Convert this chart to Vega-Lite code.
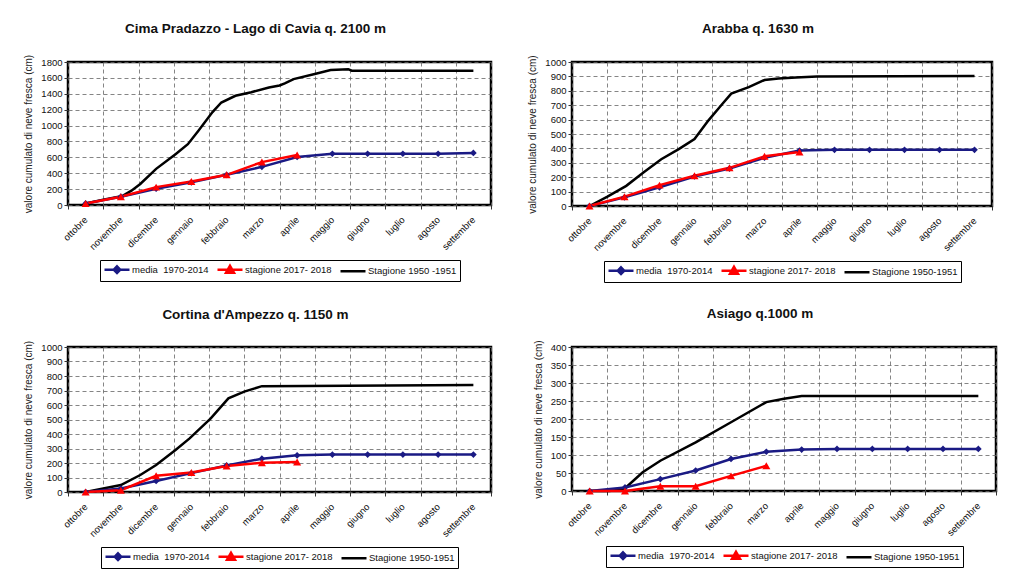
{
  "$schema": "https://vega.github.io/schema/vega-lite/v6.json",
  "background": "white",
  "padding": {"left": 22, "top": 20, "right": 5, "bottom": 2},
  "columns": 2,
  "spacing": {"row": 22, "column": 30},
  "resolve": {"scale": {"color": "independent", "shape": "independent", "size": "independent", "x": "independent", "y": "independent"}, "legend": {"color": "independent", "shape": "independent", "size": "independent"}},
  "datasets": {
    "cima": [
      {"serie": "Stagione 1950 -1951", "mese": 0.5, "cm": 20},
      {"serie": "Stagione 1950 -1951", "mese": 1.0, "cm": 67},
      {"serie": "Stagione 1950 -1951", "mese": 1.55, "cm": 115},
      {"serie": "Stagione 1950 -1951", "mese": 1.8, "cm": 180},
      {"serie": "Stagione 1950 -1951", "mese": 2.05, "cm": 265},
      {"serie": "Stagione 1950 -1951", "mese": 2.5, "cm": 455},
      {"serie": "Stagione 1950 -1951", "mese": 3.05, "cm": 640},
      {"serie": "Stagione 1950 -1951", "mese": 3.4, "cm": 765},
      {"serie": "Stagione 1950 -1951", "mese": 3.7, "cm": 935},
      {"serie": "Stagione 1950 -1951", "mese": 4.1, "cm": 1170},
      {"serie": "Stagione 1950 -1951", "mese": 4.35, "cm": 1290},
      {"serie": "Stagione 1950 -1951", "mese": 4.75, "cm": 1375},
      {"serie": "Stagione 1950 -1951", "mese": 5.2, "cm": 1420},
      {"serie": "Stagione 1950 -1951", "mese": 5.7, "cm": 1480},
      {"serie": "Stagione 1950 -1951", "mese": 6.0, "cm": 1505},
      {"serie": "Stagione 1950 -1951", "mese": 6.15, "cm": 1530},
      {"serie": "Stagione 1950 -1951", "mese": 6.4, "cm": 1585},
      {"serie": "Stagione 1950 -1951", "mese": 7.0, "cm": 1650},
      {"serie": "Stagione 1950 -1951", "mese": 7.45, "cm": 1700},
      {"serie": "Stagione 1950 -1951", "mese": 7.95, "cm": 1710},
      {"serie": "Stagione 1950 -1951", "mese": 8.05, "cm": 1690},
      {"serie": "Stagione 1950 -1951", "mese": 11.5, "cm": 1690},
      {"serie": "media\u00a0 1970-2014", "mese": 0.5, "cm": 20},
      {"serie": "media\u00a0 1970-2014", "mese": 1.5, "cm": 105},
      {"serie": "media\u00a0 1970-2014", "mese": 2.5, "cm": 205},
      {"serie": "media\u00a0 1970-2014", "mese": 3.5, "cm": 285},
      {"serie": "media\u00a0 1970-2014", "mese": 4.5, "cm": 380},
      {"serie": "media\u00a0 1970-2014", "mese": 5.5, "cm": 480},
      {"serie": "media\u00a0 1970-2014", "mese": 6.5, "cm": 605},
      {"serie": "media\u00a0 1970-2014", "mese": 7.5, "cm": 645},
      {"serie": "media\u00a0 1970-2014", "mese": 8.5, "cm": 645},
      {"serie": "media\u00a0 1970-2014", "mese": 9.5, "cm": 645},
      {"serie": "media\u00a0 1970-2014", "mese": 10.5, "cm": 645},
      {"serie": "media\u00a0 1970-2014", "mese": 11.5, "cm": 655},
      {"serie": "stagione 2017- 2018", "mese": 0.5, "cm": 20},
      {"serie": "stagione 2017- 2018", "mese": 1.5, "cm": 105},
      {"serie": "stagione 2017- 2018", "mese": 2.5, "cm": 225},
      {"serie": "stagione 2017- 2018", "mese": 3.5, "cm": 295},
      {"serie": "stagione 2017- 2018", "mese": 4.5, "cm": 380},
      {"serie": "stagione 2017- 2018", "mese": 5.5, "cm": 540},
      {"serie": "stagione 2017- 2018", "mese": 6.5, "cm": 630}
    ],
    "arabba": [
      {"serie": "Stagione 1950-1951", "mese": 0.5, "cm": 0},
      {"serie": "Stagione 1950-1951", "mese": 1.0, "cm": 63},
      {"serie": "Stagione 1950-1951", "mese": 1.55, "cm": 140},
      {"serie": "Stagione 1950-1951", "mese": 2.05, "cm": 235},
      {"serie": "Stagione 1950-1951", "mese": 2.55, "cm": 325},
      {"serie": "Stagione 1950-1951", "mese": 3.05, "cm": 395},
      {"serie": "Stagione 1950-1951", "mese": 3.5, "cm": 465},
      {"serie": "Stagione 1950-1951", "mese": 3.9, "cm": 595},
      {"serie": "Stagione 1950-1951", "mese": 4.3, "cm": 710},
      {"serie": "Stagione 1950-1951", "mese": 4.55, "cm": 780},
      {"serie": "Stagione 1950-1951", "mese": 5.05, "cm": 825},
      {"serie": "Stagione 1950-1951", "mese": 5.5, "cm": 875},
      {"serie": "Stagione 1950-1951", "mese": 5.9, "cm": 885},
      {"serie": "Stagione 1950-1951", "mese": 6.4, "cm": 892},
      {"serie": "Stagione 1950-1951", "mese": 7.0, "cm": 900},
      {"serie": "Stagione 1950-1951", "mese": 11.5, "cm": 903},
      {"serie": "media\u00a0 1970-2014", "mese": 0.5, "cm": 0},
      {"serie": "media\u00a0 1970-2014", "mese": 1.5, "cm": 60},
      {"serie": "media\u00a0 1970-2014", "mese": 2.5, "cm": 130},
      {"serie": "media\u00a0 1970-2014", "mese": 3.5, "cm": 205},
      {"serie": "media\u00a0 1970-2014", "mese": 4.5, "cm": 260},
      {"serie": "media\u00a0 1970-2014", "mese": 5.5, "cm": 335},
      {"serie": "media\u00a0 1970-2014", "mese": 6.5, "cm": 385},
      {"serie": "media\u00a0 1970-2014", "mese": 7.5, "cm": 390},
      {"serie": "media\u00a0 1970-2014", "mese": 8.5, "cm": 390},
      {"serie": "media\u00a0 1970-2014", "mese": 9.5, "cm": 390},
      {"serie": "media\u00a0 1970-2014", "mese": 10.5, "cm": 390},
      {"serie": "media\u00a0 1970-2014", "mese": 11.5, "cm": 390},
      {"serie": "stagione 2017- 2018", "mese": 0.5, "cm": 0},
      {"serie": "stagione 2017- 2018", "mese": 1.5, "cm": 65},
      {"serie": "stagione 2017- 2018", "mese": 2.5, "cm": 145},
      {"serie": "stagione 2017- 2018", "mese": 3.5, "cm": 210},
      {"serie": "stagione 2017- 2018", "mese": 4.5, "cm": 265},
      {"serie": "stagione 2017- 2018", "mese": 5.5, "cm": 345},
      {"serie": "stagione 2017- 2018", "mese": 6.5, "cm": 375}
    ],
    "cortina": [
      {"serie": "Stagione 1950-1951", "mese": 0.5, "cm": 0},
      {"serie": "Stagione 1950-1951", "mese": 1.0, "cm": 24},
      {"serie": "Stagione 1950-1951", "mese": 1.5, "cm": 48},
      {"serie": "Stagione 1950-1951", "mese": 2.05, "cm": 117},
      {"serie": "Stagione 1950-1951", "mese": 2.5, "cm": 186},
      {"serie": "Stagione 1950-1951", "mese": 3.05, "cm": 290},
      {"serie": "Stagione 1950-1951", "mese": 3.45, "cm": 370},
      {"serie": "Stagione 1950-1951", "mese": 4.05, "cm": 508},
      {"serie": "Stagione 1950-1951", "mese": 4.55, "cm": 646},
      {"serie": "Stagione 1950-1951", "mese": 5.0, "cm": 692},
      {"serie": "Stagione 1950-1951", "mese": 5.5, "cm": 730},
      {"serie": "Stagione 1950-1951", "mese": 11.5, "cm": 738},
      {"serie": "media\u00a0 1970-2014", "mese": 0.5, "cm": 0},
      {"serie": "media\u00a0 1970-2014", "mese": 1.5, "cm": 24},
      {"serie": "media\u00a0 1970-2014", "mese": 2.5, "cm": 76},
      {"serie": "media\u00a0 1970-2014", "mese": 3.5, "cm": 130},
      {"serie": "media\u00a0 1970-2014", "mese": 4.5, "cm": 183},
      {"serie": "media\u00a0 1970-2014", "mese": 5.5, "cm": 230},
      {"serie": "media\u00a0 1970-2014", "mese": 6.5, "cm": 253},
      {"serie": "media\u00a0 1970-2014", "mese": 7.5, "cm": 258},
      {"serie": "media\u00a0 1970-2014", "mese": 8.5, "cm": 258},
      {"serie": "media\u00a0 1970-2014", "mese": 9.5, "cm": 258},
      {"serie": "media\u00a0 1970-2014", "mese": 10.5, "cm": 258},
      {"serie": "media\u00a0 1970-2014", "mese": 11.5, "cm": 258},
      {"serie": "stagione 2017- 2018", "mese": 0.5, "cm": 0},
      {"serie": "stagione 2017- 2018", "mese": 1.5, "cm": 12},
      {"serie": "stagione 2017- 2018", "mese": 2.5, "cm": 112},
      {"serie": "stagione 2017- 2018", "mese": 3.5, "cm": 135},
      {"serie": "stagione 2017- 2018", "mese": 4.5, "cm": 180},
      {"serie": "stagione 2017- 2018", "mese": 5.5, "cm": 202},
      {"serie": "stagione 2017- 2018", "mese": 6.5, "cm": 207}
    ],
    "asiago": [
      {"serie": "Stagione 1950-1951", "mese": 0.5, "cm": 0},
      {"serie": "Stagione 1950-1951", "mese": 1.05, "cm": 0},
      {"serie": "Stagione 1950-1951", "mese": 1.47, "cm": 5},
      {"serie": "Stagione 1950-1951", "mese": 2.0, "cm": 52},
      {"serie": "Stagione 1950-1951", "mese": 2.5, "cm": 84},
      {"serie": "Stagione 1950-1951", "mese": 3.5, "cm": 135},
      {"serie": "Stagione 1950-1951", "mese": 4.5, "cm": 191},
      {"serie": "Stagione 1950-1951", "mese": 5.5, "cm": 247},
      {"serie": "Stagione 1950-1951", "mese": 6.0, "cm": 256},
      {"serie": "Stagione 1950-1951", "mese": 6.5, "cm": 264},
      {"serie": "Stagione 1950-1951", "mese": 11.5, "cm": 264},
      {"serie": "media\u00a0 1970-2014", "mese": 0.5, "cm": 0},
      {"serie": "media\u00a0 1970-2014", "mese": 1.5, "cm": 10},
      {"serie": "media\u00a0 1970-2014", "mese": 2.5, "cm": 33},
      {"serie": "media\u00a0 1970-2014", "mese": 3.5, "cm": 57},
      {"serie": "media\u00a0 1970-2014", "mese": 4.5, "cm": 89},
      {"serie": "media\u00a0 1970-2014", "mese": 5.5, "cm": 109},
      {"serie": "media\u00a0 1970-2014", "mese": 6.5, "cm": 115},
      {"serie": "media\u00a0 1970-2014", "mese": 7.5, "cm": 117},
      {"serie": "media\u00a0 1970-2014", "mese": 8.5, "cm": 117},
      {"serie": "media\u00a0 1970-2014", "mese": 9.5, "cm": 117},
      {"serie": "media\u00a0 1970-2014", "mese": 10.5, "cm": 117},
      {"serie": "media\u00a0 1970-2014", "mese": 11.5, "cm": 117},
      {"serie": "stagione 2017- 2018", "mese": 0.5, "cm": 0},
      {"serie": "stagione 2017- 2018", "mese": 1.5, "cm": 0},
      {"serie": "stagione 2017- 2018", "mese": 2.5, "cm": 13},
      {"serie": "stagione 2017- 2018", "mese": 3.5, "cm": 13},
      {"serie": "stagione 2017- 2018", "mese": 4.5, "cm": 42},
      {"serie": "stagione 2017- 2018", "mese": 5.5, "cm": 70}
    ]
  },
  "concat": [
    {
      "title": "Cima Pradazzo - Lago di Cavia q. 2100 m",
      "width": 423, "height": 143,
      "data": {"name": "cima"},
      "encoding": {
        "x": {"field": "mese", "type": "quantitative", "scale": {"domain": [0, 12], "nice": false, "zero": false},
          "axis": {"title": null, "values": [0,0.5,1,1.5,2,2.5,3,3.5,4,4.5,5,5.5,6,6.5,7,7.5,8,8.5,9,9.5,10,10.5,11,11.5,12],
            "labelExpr": "datum.value % 1 === 0 ? '' : ['ottobre','novembre','dicembre','gennaio','febbraio','marzo','aprile','maggio','giugno','luglio','agosto','settembre'][floor(datum.value)]",
            "gridOpacity": {"condition": {"test": "datum.value % 1 === 0", "value": 1}, "value": 0},
            "tickOpacity": {"condition": {"test": "datum.value % 1 === 0", "value": 1}, "value": 0}}},
        "y": {"field": "cm", "type": "quantitative", "scale": {"domain": [0, 1800], "nice": false},
          "axis": {"title": "valore cumulato di neve fresca (cm)", "format": "d", "values": [0,200,400,600,800,1000,1200,1400,1600,1800]}}
      },
      "layer": [
        {"mark": {"type": "line", "strokeWidth": 2.5},
         "encoding": {"color": {"field": "serie", "type": "nominal", "sort": null,
           "scale": {"domain": ["media\u00a0 1970-2014", "stagione 2017- 2018", "Stagione 1950 -1951"], "range": ["#1a1a84", "#ff0000", "#000000"]},
           "legend": {"encode": {"symbols": {"update": {
             "shape": {"signal": "datum.value === 'stagione 2017- 2018' ? 'M-1,0H4M1.5,-0.8L2.3,0.6L0.7,0.6Z' : (datum.value === 'Stagione 1950-1951' || datum.value === 'Stagione 1950 -1951') ? 'M-1,0H4' : 'M-1,0H4M1.5,-0.65L2.15,0L1.5,0.65L0.85,0Z'"},
             "fill": {"signal": "datum.value === 'stagione 2017- 2018' ? '#ff0000' : (datum.value === 'Stagione 1950-1951' || datum.value === 'Stagione 1950 -1951') ? 'transparent' : '#1a1a84'"},
             "stroke": {"signal": "datum.value === 'stagione 2017- 2018' ? '#ff0000' : (datum.value === 'Stagione 1950-1951' || datum.value === 'Stagione 1950 -1951') ? '#000000' : '#1a1a84'"},
             "strokeWidth": {"value": 2.5}, "opacity": {"value": 1}}}}}}}},
        {"transform": [{"filter": {"field": "serie", "oneOf": ["media\u00a0 1970-2014", "stagione 2017- 2018"]}}],
         "mark": {"type": "point", "filled": true, "opacity": 1},
         "encoding": {
           "color": {"field": "serie", "type": "nominal", "legend": null},
           "shape": {"field": "serie", "type": "nominal", "scale": {"domain": ["media\u00a0 1970-2014", "stagione 2017- 2018"], "range": ["diamond", "triangle-up"]}, "legend": null},
           "size": {"field": "serie", "type": "nominal", "scale": {"domain": ["media\u00a0 1970-2014", "stagione 2017- 2018"], "range": [45, 65]}, "legend": null}}}
      ]
    },
    {
      "title": "Arabba q. 1630 m",
      "width": 420, "height": 144,
      "data": {"name": "arabba"},
      "encoding": {
        "x": {"field": "mese", "type": "quantitative", "scale": {"domain": [0, 12], "nice": false, "zero": false},
          "axis": {"title": null, "values": [0,0.5,1,1.5,2,2.5,3,3.5,4,4.5,5,5.5,6,6.5,7,7.5,8,8.5,9,9.5,10,10.5,11,11.5,12],
            "labelExpr": "datum.value % 1 === 0 ? '' : ['ottobre','novembre','dicembre','gennaio','febbraio','marzo','aprile','maggio','giugno','luglio','agosto','settembre'][floor(datum.value)]",
            "gridOpacity": {"condition": {"test": "datum.value % 1 === 0", "value": 1}, "value": 0},
            "tickOpacity": {"condition": {"test": "datum.value % 1 === 0", "value": 1}, "value": 0}}},
        "y": {"field": "cm", "type": "quantitative", "scale": {"domain": [0, 1000], "nice": false},
          "axis": {"title": "valore cumulato di neve fresca (cm)", "format": "d", "values": [0,100,200,300,400,500,600,700,800,900,1000]}}
      },
      "layer": [
        {"mark": {"type": "line", "strokeWidth": 2.5},
         "encoding": {"color": {"field": "serie", "type": "nominal", "sort": null,
           "scale": {"domain": ["media\u00a0 1970-2014", "stagione 2017- 2018", "Stagione 1950-1951"], "range": ["#1a1a84", "#ff0000", "#000000"]},
           "legend": {"encode": {"symbols": {"update": {
             "shape": {"signal": "datum.value === 'stagione 2017- 2018' ? 'M-1,0H4M1.5,-0.8L2.3,0.6L0.7,0.6Z' : (datum.value === 'Stagione 1950-1951' || datum.value === 'Stagione 1950 -1951') ? 'M-1,0H4' : 'M-1,0H4M1.5,-0.65L2.15,0L1.5,0.65L0.85,0Z'"},
             "fill": {"signal": "datum.value === 'stagione 2017- 2018' ? '#ff0000' : (datum.value === 'Stagione 1950-1951' || datum.value === 'Stagione 1950 -1951') ? 'transparent' : '#1a1a84'"},
             "stroke": {"signal": "datum.value === 'stagione 2017- 2018' ? '#ff0000' : (datum.value === 'Stagione 1950-1951' || datum.value === 'Stagione 1950 -1951') ? '#000000' : '#1a1a84'"},
             "strokeWidth": {"value": 2.5}, "opacity": {"value": 1}}}}}}}},
        {"transform": [{"filter": {"field": "serie", "oneOf": ["media\u00a0 1970-2014", "stagione 2017- 2018"]}}],
         "mark": {"type": "point", "filled": true, "opacity": 1},
         "encoding": {
           "color": {"field": "serie", "type": "nominal", "legend": null},
           "shape": {"field": "serie", "type": "nominal", "scale": {"domain": ["media\u00a0 1970-2014", "stagione 2017- 2018"], "range": ["diamond", "triangle-up"]}, "legend": null},
           "size": {"field": "serie", "type": "nominal", "scale": {"domain": ["media\u00a0 1970-2014", "stagione 2017- 2018"], "range": [45, 65]}, "legend": null}}}
      ]
    },
    {
      "title": "Cortina d'Ampezzo q. 1150 m",
      "width": 423, "height": 145,
      "data": {"name": "cortina"},
      "encoding": {
        "x": {"field": "mese", "type": "quantitative", "scale": {"domain": [0, 12], "nice": false, "zero": false},
          "axis": {"title": null, "values": [0,0.5,1,1.5,2,2.5,3,3.5,4,4.5,5,5.5,6,6.5,7,7.5,8,8.5,9,9.5,10,10.5,11,11.5,12],
            "labelExpr": "datum.value % 1 === 0 ? '' : ['ottobre','novembre','dicembre','gennaio','febbraio','marzo','aprile','maggio','giugno','luglio','agosto','settembre'][floor(datum.value)]",
            "gridOpacity": {"condition": {"test": "datum.value % 1 === 0", "value": 1}, "value": 0},
            "tickOpacity": {"condition": {"test": "datum.value % 1 === 0", "value": 1}, "value": 0}}},
        "y": {"field": "cm", "type": "quantitative", "scale": {"domain": [0, 1000], "nice": false},
          "axis": {"title": "valore cumulato di neve fresca (cm)", "format": "d", "values": [0,100,200,300,400,500,600,700,800,900,1000]}}
      },
      "layer": [
        {"mark": {"type": "line", "strokeWidth": 2.5},
         "encoding": {"color": {"field": "serie", "type": "nominal", "sort": null,
           "scale": {"domain": ["media\u00a0 1970-2014", "stagione 2017- 2018", "Stagione 1950-1951"], "range": ["#1a1a84", "#ff0000", "#000000"]},
           "legend": {"encode": {"symbols": {"update": {
             "shape": {"signal": "datum.value === 'stagione 2017- 2018' ? 'M-1,0H4M1.5,-0.8L2.3,0.6L0.7,0.6Z' : (datum.value === 'Stagione 1950-1951' || datum.value === 'Stagione 1950 -1951') ? 'M-1,0H4' : 'M-1,0H4M1.5,-0.65L2.15,0L1.5,0.65L0.85,0Z'"},
             "fill": {"signal": "datum.value === 'stagione 2017- 2018' ? '#ff0000' : (datum.value === 'Stagione 1950-1951' || datum.value === 'Stagione 1950 -1951') ? 'transparent' : '#1a1a84'"},
             "stroke": {"signal": "datum.value === 'stagione 2017- 2018' ? '#ff0000' : (datum.value === 'Stagione 1950-1951' || datum.value === 'Stagione 1950 -1951') ? '#000000' : '#1a1a84'"},
             "strokeWidth": {"value": 2.5}, "opacity": {"value": 1}}}}}}}},
        {"transform": [{"filter": {"field": "serie", "oneOf": ["media\u00a0 1970-2014", "stagione 2017- 2018"]}}],
         "mark": {"type": "point", "filled": true, "opacity": 1},
         "encoding": {
           "color": {"field": "serie", "type": "nominal", "legend": null},
           "shape": {"field": "serie", "type": "nominal", "scale": {"domain": ["media\u00a0 1970-2014", "stagione 2017- 2018"], "range": ["diamond", "triangle-up"]}, "legend": null},
           "size": {"field": "serie", "type": "nominal", "scale": {"domain": ["media\u00a0 1970-2014", "stagione 2017- 2018"], "range": [45, 65]}, "legend": null}}}
      ]
    },
    {
      "title": "Asiago q.1000 m",
      "width": 424, "height": 144,
      "data": {"name": "asiago"},
      "encoding": {
        "x": {"field": "mese", "type": "quantitative", "scale": {"domain": [0, 12], "nice": false, "zero": false},
          "axis": {"title": null, "values": [0,0.5,1,1.5,2,2.5,3,3.5,4,4.5,5,5.5,6,6.5,7,7.5,8,8.5,9,9.5,10,10.5,11,11.5,12],
            "labelExpr": "datum.value % 1 === 0 ? '' : ['ottobre','novembre','dicembre','gennaio','febbraio','marzo','aprile','maggio','giugno','luglio','agosto','settembre'][floor(datum.value)]",
            "gridOpacity": {"condition": {"test": "datum.value % 1 === 0", "value": 1}, "value": 0},
            "tickOpacity": {"condition": {"test": "datum.value % 1 === 0", "value": 1}, "value": 0}}},
        "y": {"field": "cm", "type": "quantitative", "scale": {"domain": [0, 400], "nice": false},
          "axis": {"title": "valore cumulato di neve fresca (cm)", "format": "d", "values": [0,50,100,150,200,250,300,350,400]}}
      },
      "layer": [
        {"mark": {"type": "line", "strokeWidth": 2.5},
         "encoding": {"color": {"field": "serie", "type": "nominal", "sort": null,
           "scale": {"domain": ["media\u00a0 1970-2014", "stagione 2017- 2018", "Stagione 1950-1951"], "range": ["#1a1a84", "#ff0000", "#000000"]},
           "legend": {"encode": {"symbols": {"update": {
             "shape": {"signal": "datum.value === 'stagione 2017- 2018' ? 'M-1,0H4M1.5,-0.8L2.3,0.6L0.7,0.6Z' : (datum.value === 'Stagione 1950-1951' || datum.value === 'Stagione 1950 -1951') ? 'M-1,0H4' : 'M-1,0H4M1.5,-0.65L2.15,0L1.5,0.65L0.85,0Z'"},
             "fill": {"signal": "datum.value === 'stagione 2017- 2018' ? '#ff0000' : (datum.value === 'Stagione 1950-1951' || datum.value === 'Stagione 1950 -1951') ? 'transparent' : '#1a1a84'"},
             "stroke": {"signal": "datum.value === 'stagione 2017- 2018' ? '#ff0000' : (datum.value === 'Stagione 1950-1951' || datum.value === 'Stagione 1950 -1951') ? '#000000' : '#1a1a84'"},
             "strokeWidth": {"value": 2.5}, "opacity": {"value": 1}}}}}}}},
        {"transform": [{"filter": {"field": "serie", "oneOf": ["media\u00a0 1970-2014", "stagione 2017- 2018"]}}],
         "mark": {"type": "point", "filled": true, "opacity": 1},
         "encoding": {
           "color": {"field": "serie", "type": "nominal", "legend": null},
           "shape": {"field": "serie", "type": "nominal", "scale": {"domain": ["media\u00a0 1970-2014", "stagione 2017- 2018"], "range": ["diamond", "triangle-up"]}, "legend": null},
           "size": {"field": "serie", "type": "nominal", "scale": {"domain": ["media\u00a0 1970-2014", "stagione 2017- 2018"], "range": [45, 65]}, "legend": null}}}
      ]
    }
  ],
  "config": {
    "font": "Liberation Sans",
    "view": {"stroke": "#000000", "strokeWidth": 2.5},
    "axis": {"labelFont": "Liberation Sans", "labelFontSize": 9.5, "labelColor": "#111111", "domain": false,
      "tickColor": "#333333", "tickSize": 4, "gridColor": "#666666", "gridDash": [4, 3], "gridWidth": 0.8,
      "titleFont": "Liberation Sans", "titleFontSize": 10, "titleFontWeight": "normal", "titleColor": "#222222"},
    "axisX": {"labelAngle": -45, "labelAlign": "right", "labelBaseline": "middle", "labelPadding": 9, "labelOverlap": false, "labelFlush": false},
    "axisY": {"labelPadding": 2, "titlePadding": 7},
    "title": {"font": "Liberation Sans", "fontSize": 13.5, "fontWeight": "bold", "anchor": "middle", "offset": 19, "dx": -24, "color": "#111111"},
    "legend": {"orient": "bottom", "direction": "horizontal", "title": null, "strokeColor": "#000000", "padding": 3,
      "labelFont": "Liberation Sans", "labelFontSize": 9.5, "labelColor": "#111111", "labelOffset": 16,
      "symbolSize": 100, "columnPadding": 3, "offset": 8,
      "layout": {"bottom": {"anchor": "middle"}}}
  }
}
